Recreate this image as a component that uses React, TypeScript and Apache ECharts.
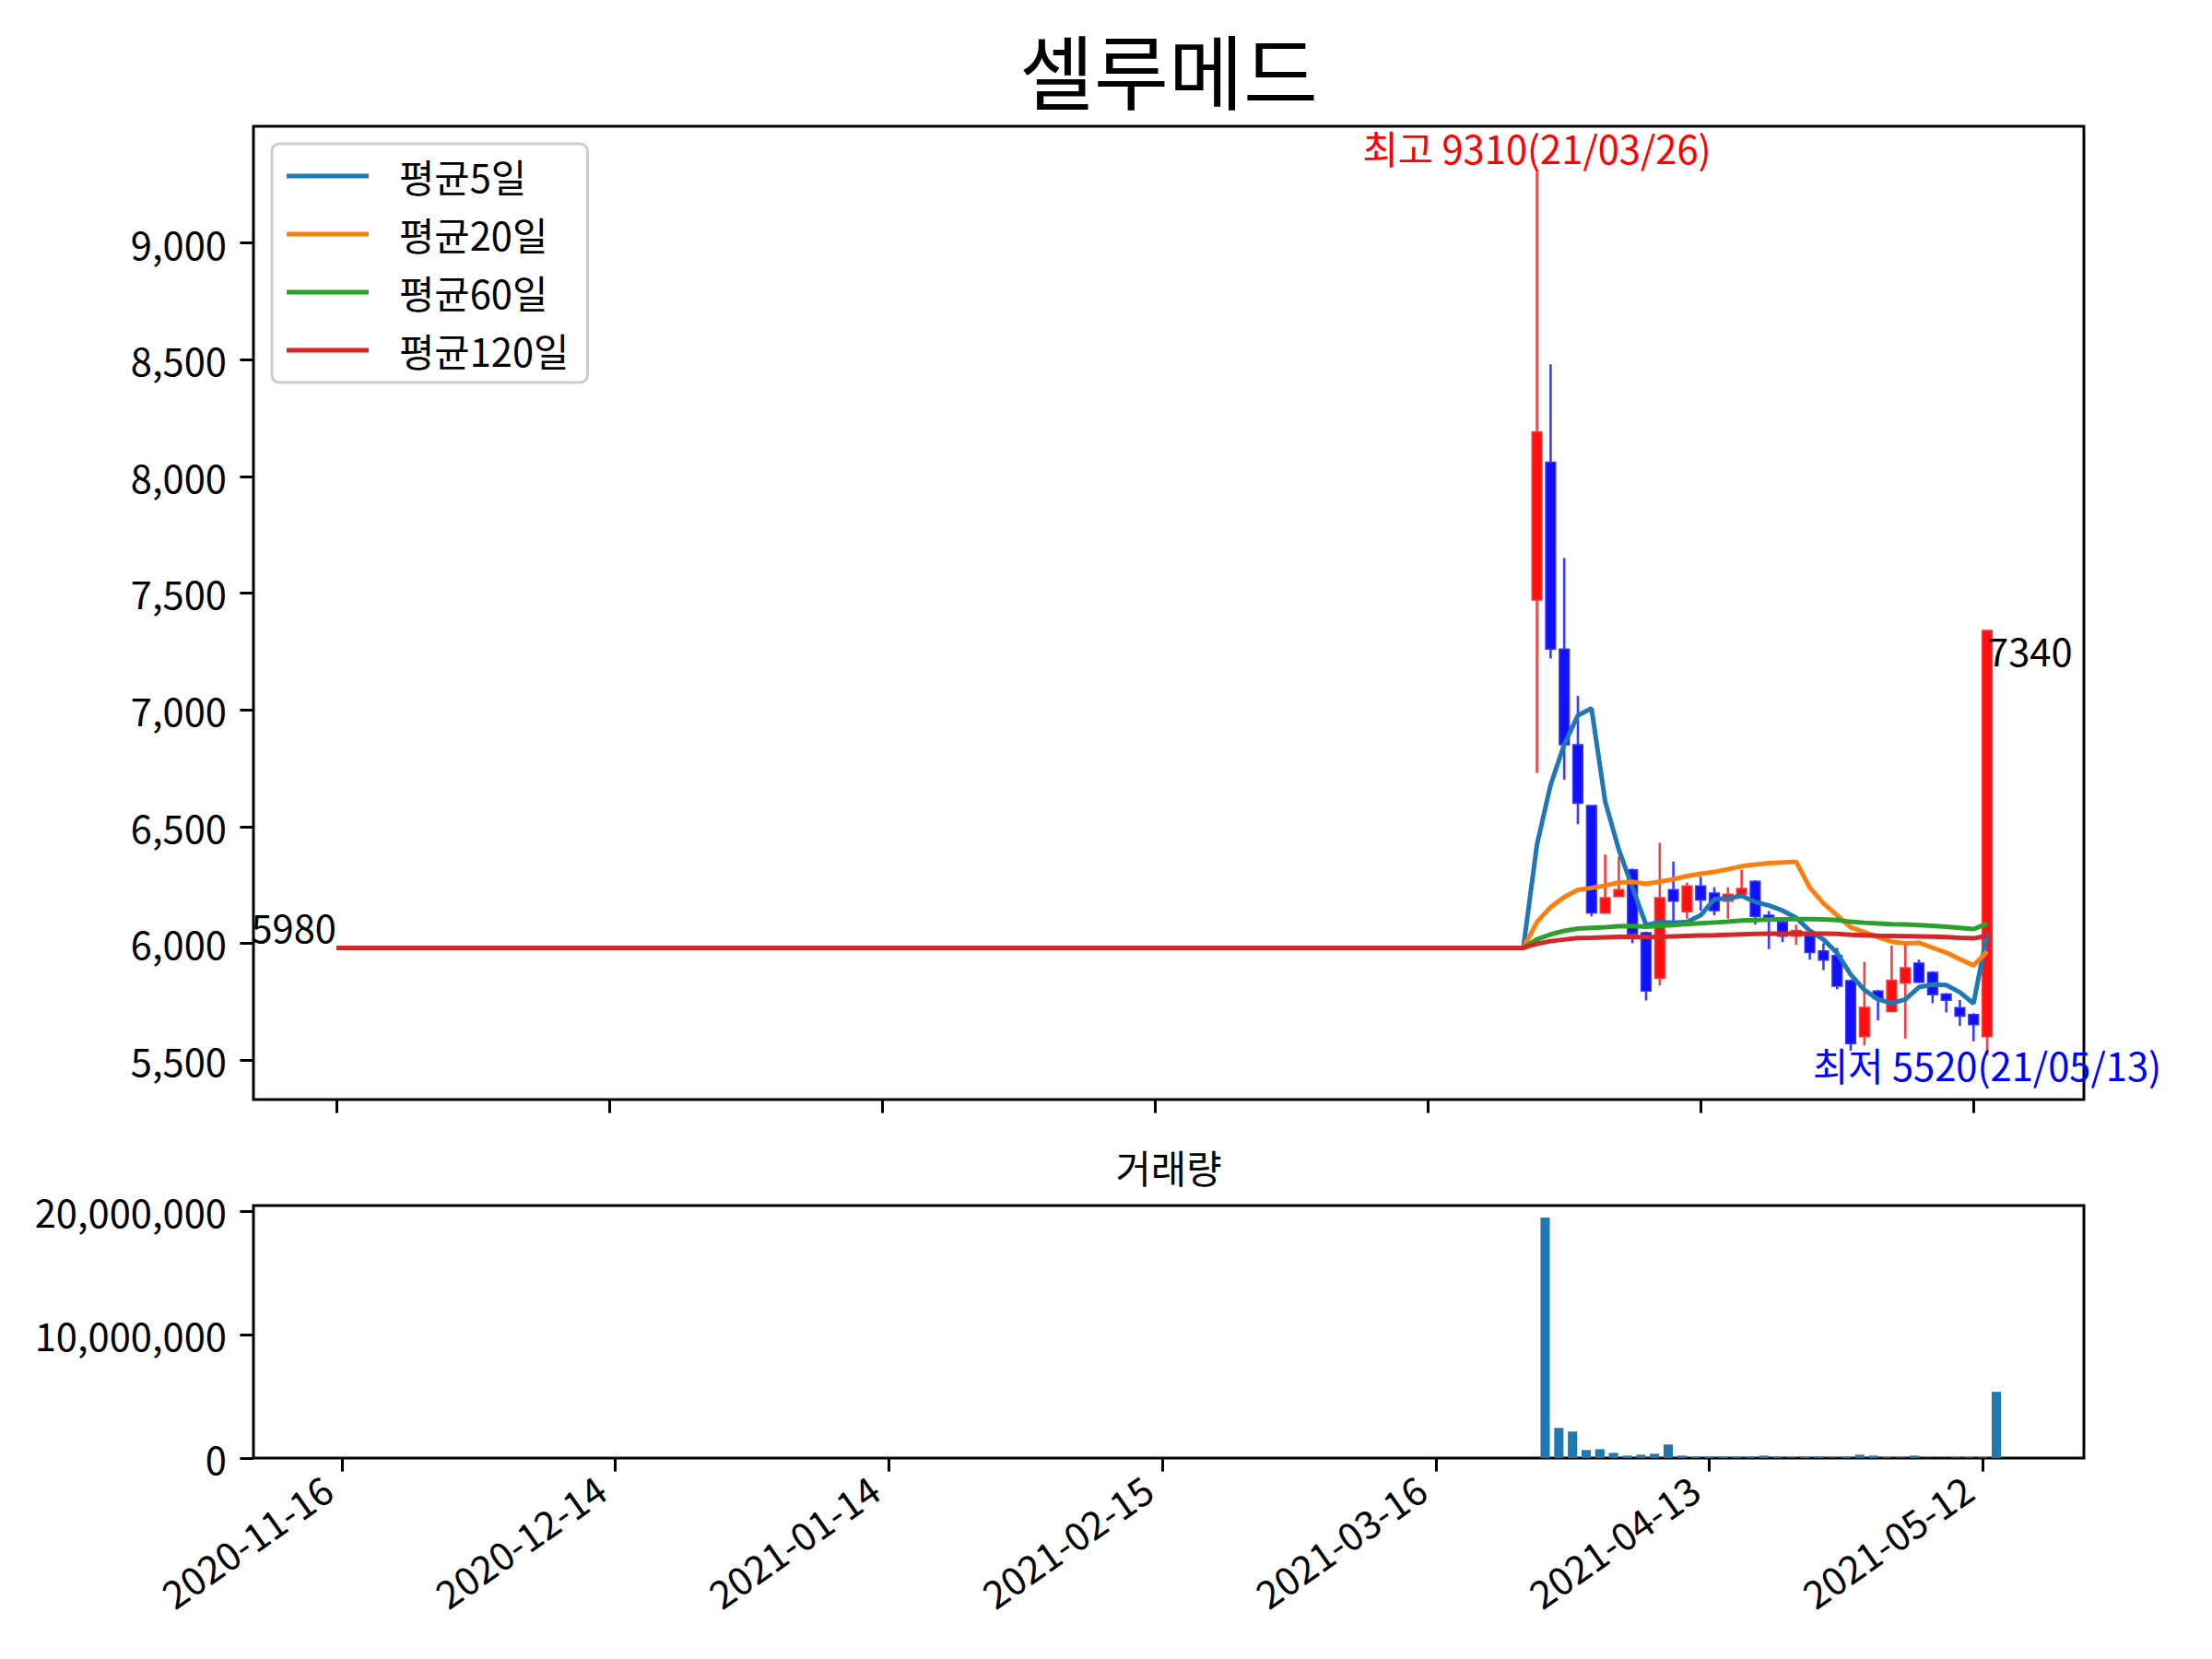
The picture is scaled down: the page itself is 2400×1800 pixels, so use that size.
import React, { useEffect, useRef } from 'react';
import * as echarts from 'echarts';

const FONT = '"Noto Sans CJK KR", "Noto Sans", sans-serif';

const TITLE = '셀루메드';
const VOLUME_TITLE = '거래량';

// halted period: flat price, no volume
const FLAT_PRICE = 5980;
const FLAT_FIRST_INDEX = 0;
const FIRST_TRADE_INDEX = 88;

const xTickIndex = [0, 20, 40, 60, 80, 100, 120];
const xTickLabels = ['2020-11-16', '2020-12-14', '2021-01-14', '2021-02-15', '2021-03-16', '2021-04-13', '2021-05-12'];
const priceTicks = [5500, 6000, 6500, 7000, 7500, 8000, 8500, 9000];
const volumeTicks = [0, 10000000, 20000000];

const candleDates = [
  '2021-03-26', '2021-03-29', '2021-03-30', '2021-03-31', '2021-04-01', '2021-04-02',
  '2021-04-05', '2021-04-06', '2021-04-07', '2021-04-08', '2021-04-09',
  '2021-04-12', '2021-04-13', '2021-04-14', '2021-04-15', '2021-04-16',
  '2021-04-19', '2021-04-20', '2021-04-21', '2021-04-22', '2021-04-23',
  '2021-04-26', '2021-04-27', '2021-04-28', '2021-04-29', '2021-04-30',
  '2021-05-03', '2021-05-04', '2021-05-06', '2021-05-07',
  '2021-05-10', '2021-05-11', '2021-05-12', '2021-05-13',
];
const opens = [7470, 8060, 7260, 6850, 6590, 6130, 6200, 6315, 6045, 5850, 6230, 6135, 6245, 6215, 6180, 6210, 6265, 6120, 6090, 6030, 6030, 5967, 5947, 5840, 5600, 5795, 5708, 5830, 5915, 5875, 5783, 5724, 5695, 5600];
const highs = [9310, 8480, 7650, 7060, 6590, 6380, 6370, 6320, 6050, 6430, 6350, 6260, 6285, 6240, 6240, 6315, 6270, 6138, 6095, 6080, 6035, 6000, 5980, 5845, 5920, 5800, 5990, 5990, 5930, 5880, 5786, 5757, 5700, 7340];
const lows = [6730, 7220, 6700, 6510, 6115, 6125, 6200, 6000, 5755, 5820, 6080, 6105, 6140, 6120, 6105, 6205, 6080, 5975, 6005, 5993, 5930, 5885, 5803, 5540, 5563, 5670, 5705, 5592, 5830, 5743, 5704, 5645, 5580, 5520];
const closes = [8190, 7260, 6850, 6600, 6130, 6195, 6230, 6040, 5795, 6195, 6180, 6245, 6185, 6140, 6210, 6235, 6115, 6108, 6030, 6055, 5960, 5928, 5816, 5570, 5725, 5763, 5842, 5895, 5833, 5780, 5756, 5688, 5651, 7340];
const volumes = [19500000, 2450000, 2150000, 650000, 720000, 420000, 200000, 270000, 350000, 1100000, 200000, 120000, 120000, 120000, 120000, 120000, 200000, 120000, 50000, 120000, 120000, 50000, 120000, 270000, 200000, 50000, 50000, 200000, 15000, 15000, 50000, 50000, 50000, 5370000];

const ma5 = [6422, 6678, 6852, 6976, 7006, 6607, 6401, 6239, 6078, 6091, 6088, 6091, 6120, 6189, 6192, 6203, 6177, 6162, 6140, 6109, 6054, 6016, 5958, 5866, 5800, 5760, 5743, 5759, 5812, 5823, 5821, 5790, 5742, 6043];
const ma20 = [6091, 6155, 6198, 6229, 6237, 6247, 6260, 6263, 6254, 6264, 6274, 6288, 6298, 6306, 6317, 6330, 6337, 6343, 6346, 6349, 6238, 6171, 6120, 6068, 6048, 6026, 6007, 6000, 6002, 5981, 5960, 5932, 5905, 5965];
const ma60 = [6017, 6038, 6053, 6063, 6066, 6069, 6073, 6074, 6071, 6075, 6078, 6083, 6086, 6089, 6092, 6097, 6099, 6101, 6102, 6103, 6103, 6102, 6099, 6092, 6088, 6085, 6082, 6081, 6078, 6075, 6071, 6066, 6061, 6084];
const ma120 = [5998, 6009, 6016, 6022, 6023, 6025, 6027, 6027, 6026, 6027, 6029, 6031, 6033, 6034, 6036, 6038, 6040, 6041, 6041, 6042, 6041, 6041, 6040, 6036, 6034, 6032, 6031, 6030, 6029, 6028, 6026, 6023, 6021, 6032];

const maNames = ['평균5일', '평균20일', '평균60일', '평균120일'];
const maColors = ['#1f77b4', '#ff7f0e', '#2ca02c', '#d62728'];

const FS = 41.7;
const X_LABEL_ROTATE = 35;

const fmtComma = (v: number) => Math.round(v).toLocaleString('en-US');
const shortDate = (d: string) => d.slice(2).replace(/-/g, '/');

function buildOption() {
  const idx = candleDates.map((_, i) => FIRST_TRADE_INDEX + i);
  const candleData = idx.map((x, i) => [x, opens[i], closes[i], lows[i], highs[i]]);
  const volumeData = idx.map((x, i) => [x, volumes[i]]);
  const maLine = (vals: number[]) => [
    [FLAT_FIRST_INDEX, FLAT_PRICE],
    [FIRST_TRADE_INDEX - 1, FLAT_PRICE],
    ...vals.map((v, i) => [FIRST_TRADE_INDEX + i, v]),
  ];

  const maxHigh = Math.max(...highs);
  const hiI = highs.indexOf(maxHigh);
  const minLow = Math.min(...lows);
  const loI = lows.indexOf(minLow);
  const lastI = closes.length - 1;

  const annotations = [
    { x: idx[hiI], y: maxHigh, text: `최고 ${maxHigh}(${shortDate(candleDates[hiI])})`, color: '#ff0000', align: 'center', valign: 'bottom', dx: 0, dy: -4 },
    { x: idx[loI], y: minLow, text: `최저 ${minLow}(${shortDate(candleDates[loI])})`, color: '#0000ff', align: 'center', valign: 'top', dx: 0, dy: -11 },
    { x: idx[lastI], y: closes[lastI], text: `${closes[lastI]}`, color: '#000000', align: 'left', valign: 'top', dx: 0, dy: 0 },
    { x: FLAT_FIRST_INDEX, y: FLAT_PRICE, text: `${FLAT_PRICE}`, color: '#000000', align: 'right', valign: 'bottom', dx: 0, dy: -3 },
  ];

  const tickStyle = { show: true, length: 14.6, lineStyle: { color: '#000', width: 3 } };
  const noLine = { show: false, onZero: false };

  return {
    animation: false,
    backgroundColor: '#ffffff',
    textStyle: { fontFamily: FONT, color: '#000' },
    grid: [
      { left: 275, top: 137, width: 1986, height: 1056, show: true, borderColor: '#000', borderWidth: 3, backgroundColor: 'transparent', outerBoundsMode: 'none' },
      { left: 275, top: 1308, width: 1986, height: 274, show: true, borderColor: '#000', borderWidth: 3, backgroundColor: 'transparent', outerBoundsMode: 'none' },
    ],
    xAxis: [
      {
        type: 'value', gridIndex: 0, min: -6.08, max: 128.09,
        axisLine: noLine, splitLine: { show: false },
        axisTick: { ...tickStyle, customValues: xTickIndex },
        axisLabel: { show: false },
      },
      {
        type: 'value', gridIndex: 1, min: -6.47, max: 127.4,
        axisLine: noLine, splitLine: { show: false },
        axisTick: { ...tickStyle, customValues: xTickIndex },
        axisLabel: { show: false },
      },
    ],
    yAxis: [
      {
        type: 'value', gridIndex: 0, min: 5330.5, max: 9499.5,
        axisLine: noLine, splitLine: { show: false },
        axisTick: { ...tickStyle, customValues: priceTicks },
        axisLabel: { show: true, customValues: priceTicks, margin: 29, fontSize: FS, color: '#000', fontFamily: FONT, formatter: fmtComma },
      },
      {
        type: 'value', gridIndex: 1, min: 0, max: 20475000,
        axisLine: noLine, splitLine: { show: false },
        axisTick: { ...tickStyle, customValues: volumeTicks },
        axisLabel: { show: true, customValues: volumeTicks, margin: 29, fontSize: FS, color: '#000', fontFamily: FONT, formatter: fmtComma },
      },
    ],
    legend: {
      data: maNames,
      orient: 'vertical', left: 295, top: 156,
      icon: 'rect', itemWidth: 89, itemHeight: 5, itemGap: 13,
      padding: [10, 20, 10, 16],
      backgroundColor: 'rgba(255,255,255,0.8)', borderColor: '#cccccc', borderWidth: 3, borderRadius: 8,
      textStyle: { fontSize: FS, color: '#000', fontFamily: FONT, lineHeight: 50, padding: [0, 0, 0, 28] },
      selectedMode: false,
    },
    graphic: [
      { type: 'text', x: 1268, y: 73, style: { text: TITLE, fill: '#000', fontSize: 88, fontFamily: FONT, align: 'center', verticalAlign: 'middle', textAlign: 'center', textVerticalAlign: 'middle' } },
      { type: 'text', x: 1268, y: 1266, style: { text: VOLUME_TITLE, fill: '#000', fontSize: FS, fontFamily: FONT, align: 'center', verticalAlign: 'middle', textAlign: 'center', textVerticalAlign: 'middle' } },
    ],
    series: [
      {
        type: 'custom', name: 'candles', xAxisIndex: 0, yAxisIndex: 0, z: 1, silent: true,
        data: candleData,
        encode: { x: 0, y: [1, 2, 3, 4] },
        renderItem: (params: any, api: any) => {
          const x = api.value(0), o = api.value(1), c = api.value(2), l = api.value(3), h = api.value(4);
          const up = c >= o;
          const top = api.coord([x, Math.max(o, c)]);
          const bot = api.coord([x, Math.min(o, c)]);
          const hi = api.coord([x, h]);
          const lo = api.coord([x, l]);
          const w = api.size([0.72, 0])[0];
          const wick = up ? '#ff3c3c' : '#3c3cff';
          const fill = up ? '#ff1010' : '#1010ff';
          const edge = up ? '#ff3535' : '#3535ff';
          return {
            type: 'group',
            children: [
              { type: 'line', shape: { x1: hi[0], y1: hi[1], x2: lo[0], y2: lo[1] }, style: { stroke: wick, lineWidth: 2.6 } },
              { type: 'rect', shape: { x: top[0] - w / 2, y: top[1], width: w, height: Math.max(bot[1] - top[1], 1.5) }, style: { fill, stroke: edge, lineWidth: 1.5 } },
            ],
          };
        },
      },
      ...[ma5, ma20, ma60, ma120].map((vals, k) => ({
        type: 'line', name: maNames[k], xAxisIndex: 0, yAxisIndex: 0, z: 3 + k,
        data: maLine(vals), showSymbol: false, symbol: 'none', silent: true,
        color: maColors[k], itemStyle: { color: maColors[k] },
        lineStyle: { color: maColors[k], width: 5 },
      })),
      {
        type: 'custom', name: 'volume', xAxisIndex: 1, yAxisIndex: 1, z: 2, silent: true,
        data: volumeData,
        encode: { x: 0, y: 1 },
        renderItem: (params: any, api: any) => {
          const x = api.value(0), v = api.value(1);
          const p0 = api.coord([x, 0]);
          const p1 = api.coord([x, v]);
          const w = api.size([0.68, 0])[0];
          return { type: 'rect', shape: { x: p0[0] - w / 2, y: p1[1], width: w, height: p0[1] - p1[1] }, style: { fill: '#1f77b4' } };
        },
      },
      {
        // date tick labels of the shared x axis, rotated like autofmt_xdate
        type: 'custom', name: 'xLabels', xAxisIndex: 1, yAxisIndex: 1, z: 20, silent: true, clip: false,
        data: xTickIndex.map((i) => [i, 0]),
        encode: { x: 0, y: 1 },
        renderItem: (params: any, api: any) => {
          const p = api.coord([api.value(0), 0]);
          return {
            type: 'text', x: p[0] - 28, y: p[1] + 11, rotation: (X_LABEL_ROTATE * Math.PI) / 180,
            style: { text: xTickLabels[params.dataIndex], fill: '#000', fontSize: FS, fontFamily: FONT, align: 'right', verticalAlign: 'top', textAlign: 'right', textVerticalAlign: 'top' },
          };
        },
      },
      {
        type: 'custom', name: 'annotations', xAxisIndex: 0, yAxisIndex: 0, z: 20, silent: true, clip: false,
        data: annotations.map((a) => [a.x, a.y]),
        encode: { x: 0, y: 1 },
        renderItem: (params: any, api: any) => {
          const a = annotations[params.dataIndex];
          const p = api.coord([api.value(0), api.value(1)]);
          return {
            type: 'text', x: p[0] + a.dx, y: p[1] + a.dy,
            style: { text: a.text, fill: a.color, fontSize: FS, fontFamily: FONT, align: a.align, verticalAlign: a.valign, textAlign: a.align, textVerticalAlign: a.valign },
          };
        },
      },
    ],
  };
}

export default function App() {
  const ref = useRef<HTMLDivElement>(null);
  useEffect(() => {
    if (!ref.current) return;
    const chart = echarts.init(ref.current, null, { renderer: 'svg' });
    chart.setOption(buildOption() as any);
    return () => chart.dispose();
  }, []);
  return <div ref={ref} style={{ position: 'fixed', left: 0, top: 0, width: 2400, height: 1800, background: '#ffffff' }} />;
}
